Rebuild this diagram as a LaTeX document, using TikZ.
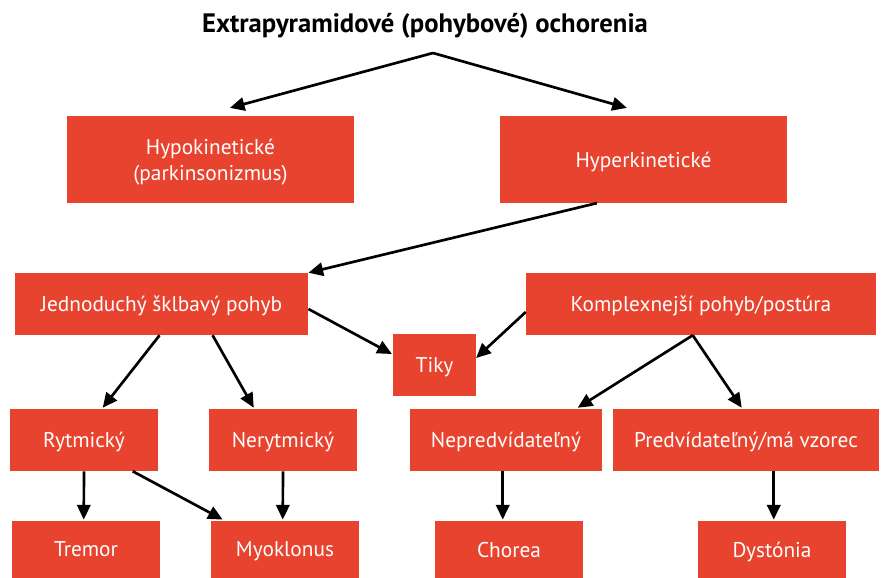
\documentclass[tikz,border=0pt]{standalone}
\usepackage{fontspec}
\setmainfont{PT Sans}
\usetikzlibrary{arrows.meta,calc}
\definecolor{boxred}{HTML}{E8432E}
\begin{document}
\begin{tikzpicture}[x=0.75pt,y=-0.75pt,
  box/.style={fill=boxred,draw=none,text=white,inner sep=0pt,font=\fontsize{16}{19.5}\selectfont,align=center,minimum height=46.5pt,text depth=0pt},
  arr/.style={draw=black,line width=2pt,-{Triangle[length=11pt,width=10pt]}}]
\useasboundingbox (0,0) rectangle (882,578);
\node[font=\bfseries\fontsize{20}{24}\selectfont] (title) at (425,26) {Extrapyramidové (pohybové) ochorenia};
\coordinate (apex) at (433,53);
\node[box,minimum width=215pt,minimum height=65pt] (hypo) at (210.5,159.5) {Hypokinetické\\(parkinsonizmus)};
\node[box,minimum width=215pt,minimum height=65pt] (hyper) at (643.5,159.5) {Hyperkinetické};
\node[box,minimum width=220pt] (jed) at (161.5,304) {Jednoduchý šklbavý pohyb};
\node[box,minimum width=262.5pt] (kom) at (701,304) {Komplexnejší pohyb/postúra};
\node[box,minimum width=62pt] (tiky) at (434.5,365) {Tiky};
\node[box,minimum width=111pt] (ryt) at (84,440) {Rytmický};
\node[box,minimum width=111pt] (ner) at (283,440) {Nerytmický};
\node[box,minimum width=144pt] (nep) at (506,440) {Nepredvídateľný};
\node[box,minimum width=199.5pt] (pre) at (746,440) {Predvídateľný/má vzorec};
\node[box,minimum width=111pt,minimum height=43pt] (tremor) at (86,549.5) {Tremor};
\node[box,minimum width=111pt,minimum height=43pt] (myo) at (285,549.5) {Myoklonus};
\node[box,minimum width=111pt,minimum height=43pt] (chorea) at (509,549.5) {Chorea};
\node[box,minimum width=111pt,minimum height=43pt] (dys) at (772,549.5) {Dystónia};
\draw[arr] (apex) -- ($(hypo.north west)+(163,-8)$);
\draw[arr] (apex) -- ($(hyper.north west)+(127,-8)$);
\draw[arr] ($(hyper.south west)+(97,0)$) -- (jed.north east);
\draw[arr] ($(jed.east)+(0,5)$) -- ($(tiky.west)+(-1,-11)$);
\draw[arr] ($(kom.west)+(0,8)$) -- ($(tiky.east)+(0,-7)$);
\draw[arr] ($(jed.south west)+(145,0)$) -- ($(ryt.north west)+(93,-1)$);
\draw[arr] ($(jed.south west)+(198,0)$) -- ($(ner.north west)+(45,-1)$);
\draw[arr] ($(kom.south west)+(167,0)$) -- ($(nep.north west)+(168,-1)$);
\draw[arr] ($(kom.south west)+(167,0)$) -- ($(pre.north west)+(129,-1)$);
\draw[arr] (ryt.south) -- ($(tremor.north west)+(72,-1)$);
\draw[arr] ($(ryt.south west)+(123,0)$) -- ($(myo.north west)+(12,-1)$);
\draw[arr] (ner.south) -- ($(myo.north west)+(72,-1)$);
\draw[arr] ($(nep.south west)+(93,0)$) -- ($(chorea.north west)+(68,-1)$);
\draw[arr] ($(pre.south west)+(161,0)$) -- ($(dys.north west)+(76,-1)$);
\end{tikzpicture}
\end{document}
